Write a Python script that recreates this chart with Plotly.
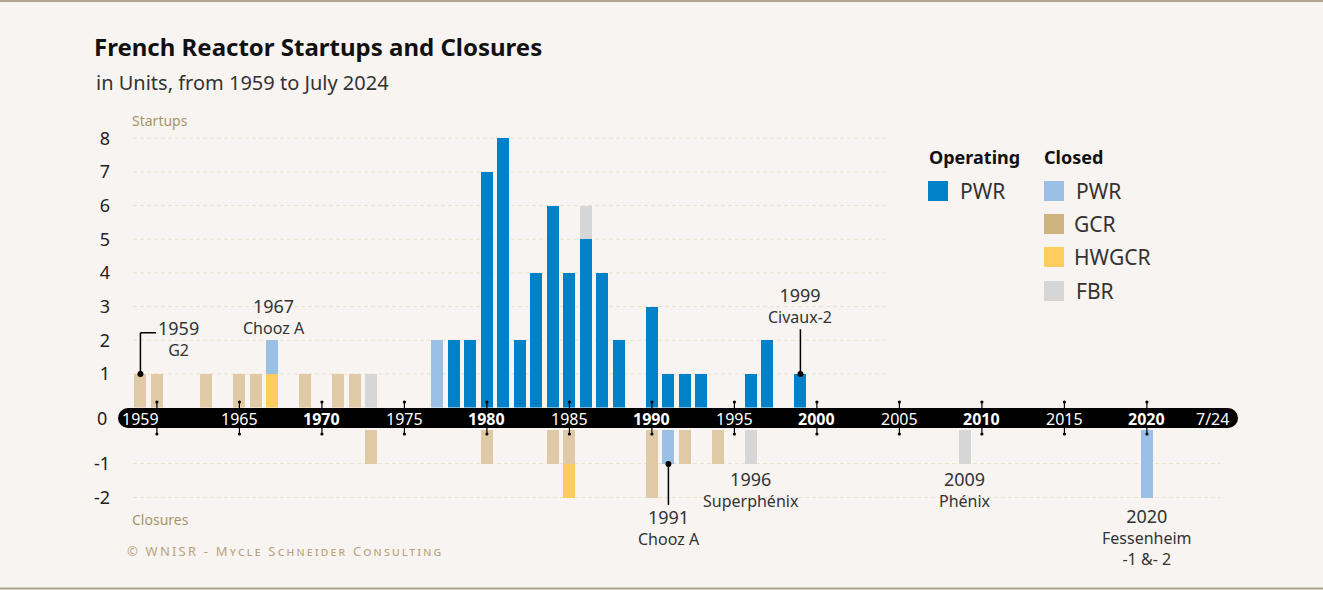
import plotly.graph_objects as go

# ---------------- data ----------------
OP_PWR_YEARS = [1978, 1979, 1980, 1981, 1982, 1983, 1984, 1985, 1986, 1987, 1988,
                1990, 1991, 1992, 1993, 1996, 1997, 1999]
OP_PWR_STARTUPS = [2, 2, 7, 8, 2, 4, 6, 4, 5, 4, 2, 3, 1, 1, 1, 1, 2, 1]

GCR_START_YEARS = [1959, 1960, 1963, 1965, 1966, 1969, 1971, 1972]
GCR_STARTUPS = [1, 1, 1, 1, 1, 1, 1, 1]
GCR_CLOSE_YEARS = [1973, 1980, 1984, 1985, 1990, 1992, 1994]
GCR_CLOSURES = [-1, -1, -1, -1, -2, -1, -1]

HWGCR_START_YEARS = [1967]
HWGCR_STARTUPS = [1]
HWGCR_CLOSE_YEARS = [1985]
HWGCR_CLOSURES = [-1]

CPWR_START_YEARS = [1967, 1977]
CPWR_STARTUPS = [1, 2]
CPWR_CLOSE_YEARS = [1991, 2020]
CPWR_CLOSURES = [-1, -2]

FBR_START_YEARS = [1973, 1986]
FBR_STARTUPS = [1, 1]
FBR_CLOSE_YEARS = [1996, 2009]
FBR_CLOSURES = [-1, -1]

TIMELINE_YEARS = [1959, 1965, 1970, 1975, 1980, 1985, 1990, 1995, 2000, 2005, 2010, 2015, 2020, 2024]
TIMELINE_LABELS = ["1959", "1965", "1970", "1975", "1980", "1985", "1990", "1995",
                   "2000", "2005", "2010", "2015", "2020", "7/24"]
TIMELINE_BOLD = [1970, 1980, 1990, 2000, 2010, 2020]
TICK_YEARS = [1960, 1965, 1970, 1975, 1980, 1985, 1990, 1995, 2000, 2005, 2010, 2015, 2020]

POS_TICKS = [1, 2, 3, 4, 5, 6, 7, 8]
NEG_TICKS = [-1, -2]

# ---------------- styling ----------------
W, H = 1323, 590
PL, PR, PT, PB = 133, 1220, 118, 508   # plot area in pixels
BG = "#f7f4f2"
FONT = "Noto Sans"
C_OP = "#0081c8"
C_CPWR = "#9bc0e6"
C_GCR = "#dfcaa5"
C_GCR_LEG = "#cfb482"
C_HW = "#ffcc5e"
C_FBR = "#d6d6d6"
GRID = "#ece2cd"
TAN_TXT = "#a8946a"


def px(p):
    return (p - PL) / (PR - PL)


def py(p):
    return (PB - p) / (PB - PT)


fig = go.Figure()

BW = 0.72
traces = [
    ("Operating PWR", OP_PWR_YEARS, OP_PWR_STARTUPS, None, None, C_OP),
    ("GCR", GCR_START_YEARS, GCR_STARTUPS, GCR_CLOSE_YEARS, GCR_CLOSURES, C_GCR),
    ("HWGCR", HWGCR_START_YEARS, HWGCR_STARTUPS, HWGCR_CLOSE_YEARS, HWGCR_CLOSURES, C_HW),
    ("Closed PWR", CPWR_START_YEARS, CPWR_STARTUPS, CPWR_CLOSE_YEARS, CPWR_CLOSURES, C_CPWR),
    ("FBR", FBR_START_YEARS, FBR_STARTUPS, FBR_CLOSE_YEARS, FBR_CLOSURES, C_FBR),
]
for name, sx, sy, cx, cy, col in traces:
    fig.add_trace(go.Bar(x=sx, y=sy, name=name, marker_color=col, marker_line_width=0,
                         width=BW, xaxis="x", yaxis="y", showlegend=False,
                         hovertemplate="%{x}: %{y}<extra>" + name + "</extra>"))
    if cx:
        fig.add_trace(go.Bar(x=cx, y=cy, name=name, marker_color=col, marker_line_width=0,
                             width=BW, xaxis="x", yaxis="y2", showlegend=False,
                             hovertemplate="%{x}: %{y}<extra>" + name + "</extra>"))

shapes = []
annotations = []

# gridlines for startups (stop before legend)
for v in POS_TICKS:
    shapes.append(dict(type="line", xref="paper", yref="y", x0=0, x1=px(885), y0=v, y1=v,
                       line=dict(color=GRID, width=1, dash="4px,3px"), layer="below"))

# timeline band
BAND_T, BAND_B = 408, 428
BAND_L, BAND_R = 128, 1228
shapes.append(dict(type="rect", xref="paper", yref="paper", x0=px(BAND_L), x1=px(BAND_R),
                   y0=py(BAND_B), y1=py(BAND_T), fillcolor="black", line_width=0, layer="above"))
for cxp in (BAND_L, BAND_R):
    shapes.append(dict(type="circle", xref="paper", yref="paper", xsizemode="pixel", ysizemode="pixel",
                       xanchor=px(cxp), yanchor=py((BAND_T + BAND_B) / 2),
                       x0=-10, x1=10, y0=-10, y1=10, fillcolor="black", line_width=0, layer="above"))

# tick marks across the band
for yr in TICK_YEARS:
    shapes.append(dict(type="line", xref="x", yref="paper", x0=yr, x1=yr, y0=py(434), y1=py(402),
                       line=dict(color="black", width=1.2), layer="above"))
    for yy in (402, 434):
        shapes.append(dict(type="circle", xref="x", yref="paper", xsizemode="pixel", ysizemode="pixel",
                           xanchor=yr, yanchor=py(yy), x0=-1.6, x1=1.6, y0=-1.6, y1=1.6,
                           fillcolor="black", line_width=0, layer="above"))

# timeline labels
for yr, lab in zip(TIMELINE_YEARS, TIMELINE_LABELS):
    t = f"<b>{lab}</b>" if yr in TIMELINE_BOLD else lab
    annotations.append(dict(x=yr, y=py(418.5), xref="x", yref="paper", text=t, showarrow=False,
                            font=dict(family=FONT, size=16, color="white"),
                            xanchor="center", yanchor="middle"))

# zero label
annotations.append(dict(x=px(109), y=py(418), xref="paper", yref="paper", text="0", showarrow=False,
                        font=dict(family=FONT, size=18, color="#222"), xanchor="right", yanchor="middle"))

# axis captions
annotations.append(dict(x=px(130), y=py(121), xref="paper", yref="paper", text="Startups", showarrow=False,
                        font=dict(family=FONT, size=14, color=TAN_TXT), xanchor="left", yanchor="middle"))
annotations.append(dict(x=px(130), y=py(519), xref="paper", yref="paper", text="Closures", showarrow=False,
                        font=dict(family=FONT, size=14, color=TAN_TXT), xanchor="left", yanchor="middle"))

# subtitle
annotations.append(dict(x=px(94), y=py(82), xref="paper", yref="paper", text="in Units, from 1959 to July 2024",
                        showarrow=False, font=dict(family=FONT, size=20, color="#333"),
                        xanchor="left", yanchor="middle"))

# footer
annotations.append(dict(x=px(125), y=py(551), xref="paper", yref="paper",
                        text="<span style='letter-spacing:2.2px'>© WNISR - Mycle Schneider Consulting</span>",
                        showarrow=False, font=dict(family=FONT, size=13, color="#b9a47c", variant="small-caps"),
                        xanchor="left", yanchor="middle"))

# event annotations
ANN = dict(showarrow=False, font=dict(family=FONT, size=16, color="#333"), align="center",
           xanchor="center", yanchor="middle")


def yr_txt(y):
    return f"<span style='font-size:18px'>{y}</span>"


def ypx_pos(v):
    # pixel of a startup value
    return 407.6 - v * (407.6 - PT) / 8.6


annotations.append(dict(x=1961.3, y=2.04, xref="x", yref="y", text=yr_txt(1959) + "<br>G2", **ANN))
annotations.append(dict(x=1967.1, y=2.72, xref="x", yref="y", text=yr_txt(1967) + "<br>Chooz A", **ANN))
annotations.append(dict(x=1999, y=3.02, xref="x", yref="y", text=yr_txt(1999) + "<br>Civaux-2", **ANN))
annotations.append(dict(x=1991.05, y=py(527.5), xref="x", yref="paper", text=yr_txt(1991) + "<br>Chooz A", **ANN))
annotations.append(dict(x=1996, y=py(489.5), xref="x", yref="paper", text=yr_txt(1996) + "<br>Superphénix", **ANN))
annotations.append(dict(x=2009, y=py(489.5), xref="x", yref="paper", text=yr_txt(2009) + "<br>Phénix", **ANN))
annotations.append(dict(x=2020, y=py(536.5), xref="x", yref="paper",
                        text=yr_txt(2020) + "<br>Fessenheim<br>-1 &- 2", **ANN))

# connectors
LC = dict(color="black", width=1.5)
shapes.append(dict(type="line", xref="x", yref="y", x0=1959, x1=1959, y0=1, y1=2.22, line=LC))
shapes.append(dict(type="line", xref="x", yref="y", x0=1959, x1=1959.95, y0=2.22, y1=2.22, line=LC))
shapes.append(dict(type="line", xref="x", yref="y", x0=1999, x1=1999, y0=1, y1=2.33, line=LC))
shapes.append(dict(type="line", xref="x", yref="y2", x0=1991, x1=1991, y0=-1, y1=-2.21, line=LC))
for xa, ya, yr_ in ((1959, 1, "y"), (1999, 1, "y"), (1991, -1, "y2")):
    shapes.append(dict(type="circle", xref="x", yref=yr_, xsizemode="pixel", ysizemode="pixel",
                       xanchor=xa, yanchor=ya, x0=-3, x1=3, y0=-3, y1=3,
                       fillcolor="black", line_width=0, layer="above"))

# legend (manual)
LEG_FONT = dict(family=FONT, size=21, color="#333")
annotations.append(dict(x=px(927), y=py(157), xref="paper", yref="paper", text="<b>Operating</b>",
                        showarrow=False, font=dict(family=FONT, size=18, color="#111"),
                        xanchor="left", yanchor="middle"))
annotations.append(dict(x=px(1042), y=py(157), xref="paper", yref="paper", text="<b>Closed</b>",
                        showarrow=False, font=dict(family=FONT, size=18, color="#111"),
                        xanchor="left", yanchor="middle"))
legend_items = [
    (928, 191, C_OP, "PWR", 958),
    (1044, 191, C_CPWR, "PWR", 1074),
    (1044, 224, C_GCR_LEG, "GCR", 1072),
    (1044, 257, C_HW, "HWGCR", 1072),
    (1044, 291, C_FBR, "FBR", 1074),
]
for sx, sy, col, lab, tx in legend_items:
    shapes.append(dict(type="rect", xref="paper", yref="paper", x0=px(sx), x1=px(sx + 20),
                       y0=py(sy + 10), y1=py(sy - 10), fillcolor=col, line_width=0))
    annotations.append(dict(x=px(tx), y=py(sy), xref="paper", yref="paper", text=lab, showarrow=False,
                            font=LEG_FONT, xanchor="left", yanchor="middle"))

# frame lines
shapes.append(dict(type="line", xref="paper", yref="paper", x0=px(0), x1=px(W), y0=py(1), y1=py(1),
                   line=dict(color="#ada38e", width=2)))
shapes.append(dict(type="line", xref="paper", yref="paper", x0=px(0), x1=px(W), y0=py(588.5), y1=py(588.5),
                   line=dict(color="#ada38e", width=2)))

fig.update_layout(
    width=W, height=H,
    margin=dict(l=PL, r=W - PR, t=PT, b=H - PB, pad=0),
    paper_bgcolor=BG, plot_bgcolor=BG,
    barmode="relative", bargap=0,
    showlegend=False,
    title=dict(text="<b>French Reactor Startups and Closures</b>", xref="container", yref="container",
               x=94 / W, y=1 - 48 / H, xanchor="left", yanchor="middle",
               font=dict(family=FONT, size=24, color="#111")),
    xaxis=dict(range=[1958.55, 2024.43], visible=False, anchor="y2", fixedrange=True),
    yaxis=dict(domain=[py(407.6), 1], range=[0, 8.6], tickvals=POS_TICKS,
               ticktext=[str(v) for v in POS_TICKS], showgrid=False, zeroline=False,
               showline=False, ticks="", ticklabelstandoff=22,
               tickfont=dict(family=FONT, size=18, color="#222"), anchor="x", fixedrange=True),
    yaxis2=dict(domain=[0, py(430)], range=[-2.3, 0], tickvals=NEG_TICKS,
                ticktext=[str(v) for v in NEG_TICKS], showgrid=True, gridcolor=GRID,
                griddash="4px,3px", gridwidth=1, zeroline=False, showline=False, ticks="",
                ticklabelstandoff=22, tickfont=dict(family=FONT, size=18, color="#222"),
                anchor="x", fixedrange=True),
    shapes=shapes,
    annotations=annotations,
    font=dict(family=FONT),
)

fig.write_html("out.html", config={"displayModeBar": False},
               post_script="document.body.style.margin='0';document.body.style.overflow='hidden';")
